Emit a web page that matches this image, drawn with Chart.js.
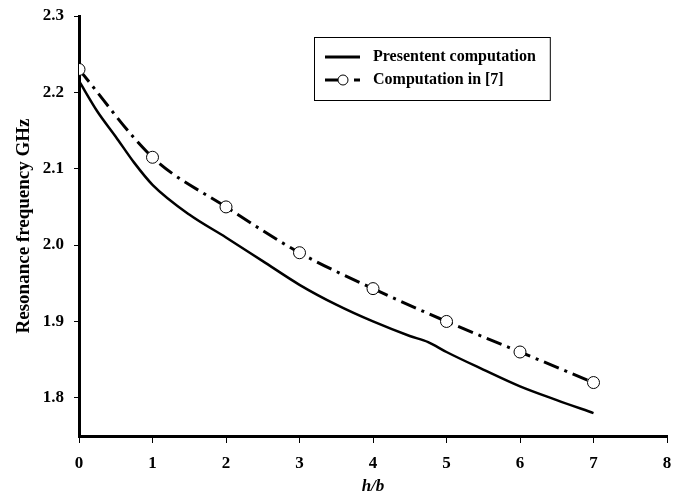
<!DOCTYPE html>
<html>
<head>
<meta charset="utf-8">
<script src="https://cdn.jsdelivr.net/npm/chart.js@4.4.0/dist/chart.umd.min.js"></script>
<style>
  html, body { margin: 0; padding: 0; background: #fff; }
  #wrap { width: 684px; height: 494px; }
</style>
</head>
<body>
<div id="wrap"><canvas id="chart"></canvas></div>
<script>
// data
const presentX = [0, 0.25, 0.5, 0.75, 1, 1.5, 2, 2.5, 3, 3.5, 4, 4.5, 4.75, 5, 5.5, 6, 6.5, 7];
const presentY = [2.215, 2.175, 2.142, 2.108, 2.079, 2.04, 2.01, 1.979, 1.948, 1.922, 1.90, 1.881, 1.873, 1.86, 1.837, 1.815, 1.797, 1.78];
const refX = [0, 1, 2, 3, 4, 5, 6, 7];
const refY = [2.23, 2.115, 2.05, 1.99, 1.943, 1.90, 1.86, 1.82];
const yTicks = [1.8, 1.9, 2.0, 2.1, 2.2, 2.3];
const xTicks = [0, 1, 2, 3, 4, 5, 6, 7, 8];

const serif = '"Liberation Serif", "Times New Roman", serif';

// legend box drawn inside the plot
const boxLegend = {
  id: 'boxLegend',
  afterDraw(chart) {
    const ctx = chart.ctx;
    ctx.save();
    ctx.font = 'bold 16px ' + serif;
    const labels = chart.data.datasets.map(d => d.label);
    const tw = Math.max(...labels.map(t => ctx.measureText(t).width));
    const x = 314, y = 37, h = 63;
    const w = 373 - x + tw + 14;
    ctx.strokeStyle = '#000';
    ctx.lineWidth = 1;
    ctx.strokeRect(x + 0.5, y + 0.5, w, h);
    ctx.fillStyle = '#000';
    ctx.textBaseline = 'middle';
    // solid sample
    ctx.lineWidth = 3;
    ctx.beginPath();
    ctx.moveTo(325, 57); ctx.lineTo(360, 57);
    ctx.stroke();
    ctx.fillText(labels[0], 373, 57);
    // dash-dot sample with marker
    ctx.beginPath();
    ctx.moveTo(325, 80); ctx.lineTo(338, 80);
    ctx.moveTo(354, 80); ctx.lineTo(360, 80);
    ctx.stroke();
    ctx.lineWidth = 1;
    ctx.beginPath();
    ctx.arc(343, 80, 5, 0, Math.PI * 2);
    ctx.fillStyle = '#fff';
    ctx.fill();
    ctx.stroke();
    ctx.fillStyle = '#000';
    ctx.fillText(labels[1], 373, 80);
    ctx.restore();
  }
};

new Chart(document.getElementById('chart'), {
  type: 'scatter',
  data: {
    datasets: [
      {
        label: 'Presentent computation',
        data: presentX.map((x, i) => ({ x: x, y: presentY[i] })),
        showLine: true,
        borderColor: '#000',
        borderWidth: 2.5,
        pointRadius: 0,
        cubicInterpolationMode: 'monotone'
      },
      {
        label: 'Computation in [7]',
        data: refX.map((x, i) => ({ x: x, y: refY[i] })),
        showLine: true,
        borderColor: '#000',
        borderWidth: 3,
        borderDash: [16, 6, 3, 6],
        cubicInterpolationMode: 'monotone',
        pointRadius: 6,
        pointBackgroundColor: '#fff',
        pointBorderColor: '#000',
        pointBorderWidth: 1
      }
    ]
  },
  options: {
    responsive: true,
    maintainAspectRatio: false,
    animation: false,
    layout: { padding: { top: 16, right: 17, left: 0, bottom: 0 } },
    plugins: {
      legend: { display: false },
      tooltip: { enabled: false }
    },
    scales: {
      x: {
        type: 'linear',
        min: 0,
        max: 8,
        afterBuildTicks: s => { s.ticks = xTicks.map(v => ({ value: v })); },
        afterFit: s => { s.height = 58; s.paddingLeft = 0; s.paddingRight = 0; },
        grid: { display: true, drawOnChartArea: false, drawTicks: true, tickLength: 7, color: '#000', lineWidth: 1 },
        border: { display: true, color: '#000', width: 3 },
        ticks: {
          color: '#000',
          padding: 10,
          font: { family: serif, size: 17, weight: 'bold' }
        },
        title: {
          display: true,
          text: 'h/b',
          color: '#000',
          padding: { top: 6, bottom: -3 },
          font: { family: serif, size: 17, weight: 'bold', style: 'italic' }
        }
      },
      y: {
        type: 'linear',
        min: 1.75,
        max: 2.3,
        afterBuildTicks: s => { s.ticks = yTicks.map(v => ({ value: v })); },
        afterFit: s => { s.width = 79; s.paddingTop = 0; s.paddingBottom = 0; },
        grid: { display: true, drawOnChartArea: false, drawTicks: true, tickLength: 5, color: '#000', lineWidth: 1 },
        border: { display: true, color: '#000', width: 3 },
        ticks: {
          color: '#000',
          padding: 10,
          callback: v => Number(v).toFixed(1),
          font: { family: serif, size: 17, weight: 'bold' }
        },
        title: {
          display: true,
          text: 'Resonance frequency GHz',
          color: '#000',
          padding: { top: 13, bottom: 0 },
          font: { family: serif, size: 19, weight: 'bold' }
        }
      }
    }
  },
  plugins: [boxLegend]
});
</script>
</body>
</html>
